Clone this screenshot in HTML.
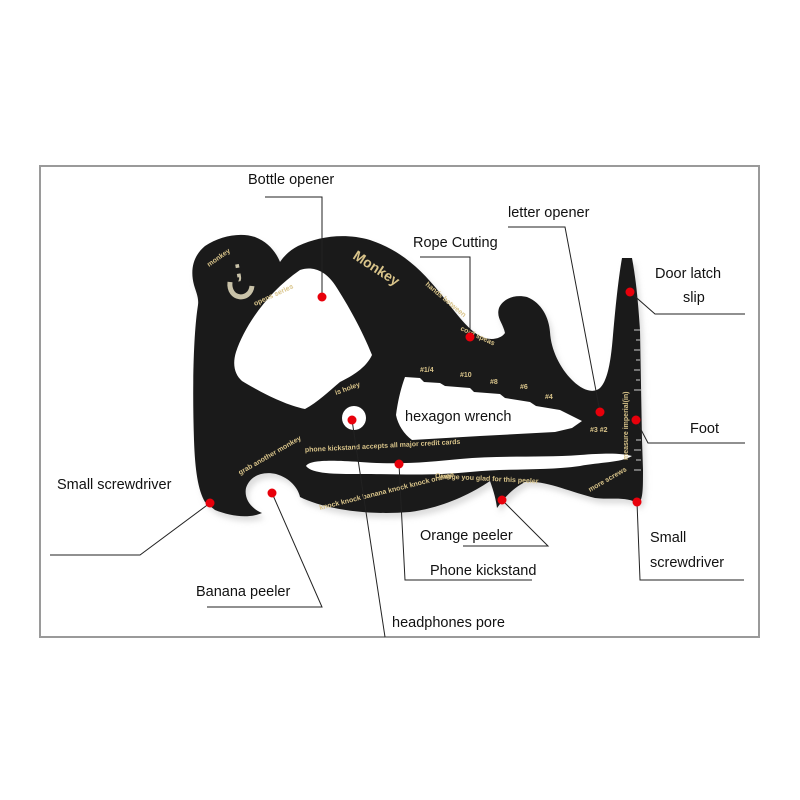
<!DOCTYPE html>
<html><head><meta charset="utf-8"><style>
html,body{margin:0;padding:0;background:#fff;}
svg{display:block}
text{font-family:"Liberation Sans",Arial,sans-serif;}
.l{font-size:14.5px;fill:#111}
.g{font-family:"Liberation Serif",serif;fill:#d9c48a;font-size:7px;font-weight:bold}
</style></head><body>
<svg width="800" height="800" viewBox="0 0 800 800" xmlns="http://www.w3.org/2000/svg">
<rect x="40" y="166" width="719" height="471" fill="#fff" stroke="#9a9a9a" stroke-width="2"/>
<defs><filter id="sh" x="-10%" y="-10%" width="120%" height="130%"><feGaussianBlur stdDeviation="3"/></filter></defs>
<path id="body" fill="#bbb" opacity="0.5" filter="url(#sh)" transform="translate(3,5)" d="M215,510 C230,516 248,519 262,513 C250,508 244,498 246,488 C250,476 262,471 276,474 C290,478 298,488 300,497 C320,507 360,516 410,512 C440,508 468,496 490,481 C494,492 496,500 497,508 C503,500 510,490 525,482 C545,480 570,492 595,498 C612,500 628,496 638,504 C643,500 643,490 643,470 L642,440 L640,330 C638,300 636,280 632,258 L622,258 C619,275 616,300 613,335 C611,360 608,380 600,388 C593,394 582,390 572,380 C560,368 551,350 550,332 C549,318 542,303 527,297 C514,294 503,299 499,308 C496,318 503,323 505,333 C500,340 488,341 478,335 C466,327 455,312 440,293 C420,268 400,250 370,240 C345,233 320,236 298,246 C290,250 284,256 280,262 C276,252 268,242 255,237 C240,232 220,236 205,246 C193,256 190,270 194,285 C196,292 199,298 198,305 C194,330 192,380 194,440 C195,470 198,490 205,502 Z"/>
<path fill="#1a1a1a" d="M215,510 C230,516 248,519 262,513 C250,508 244,498 246,488 C250,476 262,471 276,474 C290,478 298,488 300,497 C320,507 360,516 410,512 C440,508 468,496 490,481 C494,492 496,500 497,508 C503,500 510,490 525,482 C545,480 570,492 595,498 C612,500 628,496 638,504 C643,500 643,490 643,470 L642,440 L640,330 C638,300 636,280 632,258 L622,258 C619,275 616,300 613,335 C611,360 608,380 600,388 C593,394 582,390 572,380 C560,368 551,350 550,332 C549,318 542,303 527,297 C514,294 503,299 499,308 C496,318 503,323 505,333 C500,340 488,341 478,335 C466,327 455,312 440,293 C420,268 400,250 370,240 C345,233 320,236 298,246 C290,250 284,256 280,262 C276,252 268,242 255,237 C240,232 220,236 205,246 C193,256 190,270 194,285 C196,292 199,298 198,305 C194,330 192,380 194,440 C195,470 198,490 205,502 Z"/>
<!-- holes -->
<g fill="#fff">
<path d="M300,270 C312,266 325,270 335,285 C348,305 362,330 372,355 C366,368 352,376 340,382 C328,392 318,402 305,409 C285,405 260,392 242,381 C235,375 232,365 236,352 C245,325 268,292 300,270 Z"/>
<path d="M405,377 L420,378 L424,382 L440,383 L445,386 L470,388 L474,392 L500,394 L505,398 L530,402 L536,406 L560,410 L570,415 L582,421 L572,428 L555,432 L480,436 L412,440 C404,434 398,425 396,415 C398,400 401,388 405,377 Z"/>
<path d="M306,466 C310,460 330,460 360,462 C400,465 430,462 460,459 C500,455 540,458 580,455 C605,453 622,453 632,456 C620,463 600,462 580,466 C545,471 510,468 470,472 C430,476 400,474 360,474 C335,474 312,474 306,466 Z"/>
</g>
<circle cx="353" cy="413" r="24" fill="#1a1a1a"/>
<circle cx="354" cy="418" r="12" fill="#fff"/>
<!-- engraving details -->
<g class="g">
<text x="352" y="258" font-size="14" transform="rotate(33 352 258)">Monkey</text>
<text x="209" y="267" transform="rotate(-35 209 267)">monkey</text>
<text x="255" y="306" transform="rotate(-25 255 306)">opens series</text>
<text x="425" y="285" transform="rotate(40 425 285)">hands between</text>
<text x="460" y="330" transform="rotate(25 460 330)">cord speas</text>
<text x="420" y="372">#1/4</text><text x="460" y="377">#10</text>
<text x="490" y="384">#8</text><text x="520" y="389">#6</text><text x="545" y="399">#4</text>
<text x="590" y="432">#3 #2</text>
<text x="305" y="452" transform="rotate(-3 305 452)">phone kickstand accepts all major credit cards</text>
<text x="320" y="510" transform="rotate(-14 320 510)">knock knock banana knock knock orange</text>
<text x="435" y="478" transform="rotate(3 435 478)">Orange you glad for this peeler</text>
<text x="590" y="492" transform="rotate(-30 590 492)">more screws</text>
<text x="240" y="475" transform="rotate(-30 240 475)">grab another monkey</text>
<text x="336" y="395" transform="rotate(-20 336 395)">is holey</text>
<text x="628" y="460" transform="rotate(-90 628 460)">measure imperial(in)</text>
</g>
<text x="235" y="278" fill="#c9c2a8" font-size="26" font-weight="bold" transform="rotate(-10 235 278)">;</text>
<path d="M230,282 C228,300 250,302 252,286" stroke="#c9c2a8" stroke-width="5" fill="none"/>
<g stroke="#ccc" stroke-width="1">
<line x1="634" y1="330" x2="640" y2="330"/><line x1="636" y1="340" x2="640" y2="340"/><line x1="634" y1="350" x2="640" y2="350"/><line x1="636" y1="360" x2="640" y2="360"/><line x1="634" y1="370" x2="640" y2="370"/><line x1="636" y1="380" x2="640" y2="380"/><line x1="634" y1="390" x2="641" y2="390"/><line x1="636" y1="440" x2="641" y2="440"/><line x1="634" y1="450" x2="641" y2="450"/><line x1="636" y1="460" x2="641" y2="460"/><line x1="634" y1="470" x2="641" y2="470"/>
</g>
<g stroke="#222" stroke-width="1" fill="none">
<polyline points="265,197 322,197 322,297"/>
<polyline points="420,257 470,257 470,337"/>
<polyline points="508,227 565,227 600,412"/>
<polyline points="630,292 655,314 745,314"/>
<polyline points="636,420 648,443 745,443"/>
<polyline points="210,503 140,555 50,555"/>
<polyline points="272,493 322,607 207,607"/>
<polyline points="502,500 548,546 463,546"/>
<polyline points="399,464 405,580 532,580"/>
<polyline points="352,420 385,637"/>
<polyline points="637,502 640,580 744,580"/>
</g>
<g fill="#e8000b">
<circle cx="322" cy="297" r="4.5"/><circle cx="470" cy="337" r="4.5"/><circle cx="600" cy="412" r="4.5"/>
<circle cx="630" cy="292" r="4.5"/><circle cx="636" cy="420" r="4.5"/><circle cx="210" cy="503" r="4.5"/>
<circle cx="272" cy="493" r="4.5"/><circle cx="502" cy="500" r="4.5"/><circle cx="399" cy="464" r="4.5"/>
<circle cx="352" cy="420" r="4.5"/><circle cx="637" cy="502" r="4.5"/>
</g>
<text class="l" x="248" y="184">Bottle opener</text>
<text class="l" x="413" y="247">Rope Cutting</text>
<text class="l" x="508" y="217">letter opener</text>
<text class="l" x="655" y="278">Door latch</text>
<text class="l" x="683" y="302">slip</text>
<text class="l" x="405" y="421">hexagon wrench</text>
<text class="l" x="690" y="433">Foot</text>
<text class="l" x="57" y="489">Small screwdriver</text>
<text class="l" x="196" y="596">Banana peeler</text>
<text class="l" x="420" y="540">Orange peeler</text>
<text class="l" x="430" y="575">Phone kickstand</text>
<text class="l" x="392" y="627">headphones pore</text>
<text class="l" x="650" y="542">Small</text>
<text class="l" x="650" y="567">screwdriver</text>
</svg>
</body></html>
